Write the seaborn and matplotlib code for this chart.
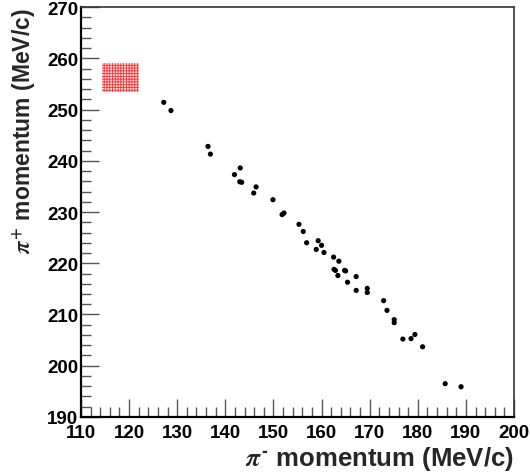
import matplotlib
matplotlib.use("Agg")
import matplotlib.pyplot as plt
import seaborn as sns
import pandas as pd
from matplotlib.patches import Rectangle
from matplotlib.ticker import MultipleLocator

# Data
pi_minus = [127.2, 128.7, 136.4, 136.9, 143.1, 141.9, 143.0, 143.4, 146.4, 145.9,
            149.9, 152.2, 151.8, 155.3, 156.2, 156.9, 159.3, 160.0, 158.9, 160.5,
            162.5, 163.6, 162.6, 162.9, 164.8, 165.0, 163.4, 165.4, 167.2, 167.2,
            169.5, 169.5, 172.9, 173.6, 175.1, 175.1, 176.9, 178.6, 179.4, 181.0,
            185.7, 189.0]
pi_plus = [251.4, 249.8, 242.8, 241.3, 238.6, 237.3, 235.9, 235.8, 234.9, 233.7,
           232.4, 229.8, 229.5, 227.6, 226.2, 224.0, 224.4, 223.5, 222.7, 222.1,
           221.2, 220.4, 218.8, 218.6, 218.6, 218.5, 217.6, 216.3, 217.4, 214.7,
           215.1, 214.3, 212.7, 210.8, 209.0, 208.4, 205.2, 205.3, 206.1, 203.7,
           196.5, 195.9]
box_x = [114.4, 122.0]
box_y = [253.4, 259.0]
x_ticks = [110, 120, 130, 140, 150, 160, 170, 180, 190, 200]
y_ticks = [190, 200, 210, 220, 230, 240, 250, 260, 270]

df = pd.DataFrame({"pim": pi_minus, "pip": pi_plus})

sns.set_style("white")
plt.rcParams["font.family"] = ["Liberation Sans", "DejaVu Sans"]
plt.rcParams["font.weight"] = "bold"
plt.rcParams["mathtext.fontset"] = "stix"
plt.rcParams["hatch.linewidth"] = 0.6

fig = plt.figure(figsize=(5.30, 4.77), dpi=100)
ax = fig.add_axes([0.1528, 0.1237, 0.8170, 0.8595])

ax.add_patch(Rectangle((box_x[0], box_y[0]), box_x[1] - box_x[0], box_y[1] - box_y[0],
                       facecolor="#ffe0e0", edgecolor="#ff3030", hatch="++++++",
                       linewidth=0, zorder=1))

sns.scatterplot(data=df, x="pim", y="pip", ax=ax, color="black", s=14,
                edgecolor="none", linewidth=0, zorder=3)

ax.set_xlim(x_ticks[0], x_ticks[-1])
ax.set_ylim(y_ticks[0], y_ticks[-1])
ax.set_xticks(x_ticks)
ax.set_yticks(y_ticks)
ax.xaxis.set_minor_locator(MultipleLocator(2))
ax.yaxis.set_minor_locator(MultipleLocator(2))
ax.tick_params(axis="both", which="major", direction="in", length=13, width=1,
               color="#555555", labelsize=13.5, labelcolor="black")
ax.tick_params(axis="x", which="major", pad=5)
ax.tick_params(axis="y", which="major", pad=2)
ax.tick_params(axis="both", which="minor", direction="in", length=7, width=1,
               color="#555555")
ax.tick_params(top=False, right=False, which="both", bottom=True, left=True)
for lab in ax.get_xticklabels() + ax.get_yticklabels():
    lab.set_fontweight("bold")

for side in ["left", "bottom"]:
    ax.spines[side].set_linewidth(1.6)
    ax.spines[side].set_color("black")
for side in ["top", "right"]:
    ax.spines[side].set_linewidth(1.2)
    ax.spines[side].set_color("#333333")

ax.set_xlabel(r"$\pi^{\text{-}}$ momentum (MeV/c)", loc="right", fontsize=18.5,
              fontweight="bold", labelpad=2)
ax.set_ylabel(r"$\pi^{+}$ momentum (MeV/c)", loc="top", fontsize=16.5,
              fontweight="bold", labelpad=6)

fig.savefig("out.png", dpi=100)
